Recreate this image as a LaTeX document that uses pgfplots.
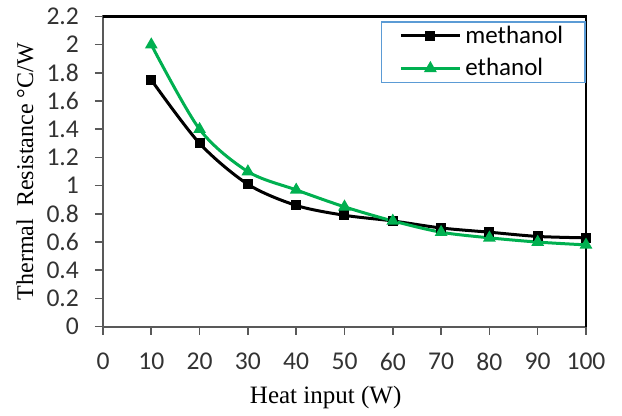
\documentclass[border=0pt]{standalone}
\usepackage{fontspec}
\setmainfont{Liberation Serif}
\newfontfamily\calibri{Carlito}
\usepackage{pgfplots}
\pgfplotsset{compat=1.18}
\definecolor{exgreen}{HTML}{00B050}
\definecolor{legblue}{HTML}{5B9BD5}
\definecolor{axgray}{HTML}{595959}
\begin{document}
\begin{tikzpicture}
\begin{axis}[
  name=ax,
  scale only axis,
  width=241.5pt, height=155.1pt,
  xmin=0, xmax=100, ymin=0, ymax=2.2,
  xtick={0,10,...,100},
  ytick={0,0.2,...,2.2},
  yticklabels={0,0.2,0.4,0.6,0.8,1,1.2,1.4,1.6,1.8,2,2.2},
  xticklabels={0,10,20,30,40,50,60,70,80,90,100},
  tick align=outside,
  xtick pos=bottom, ytick pos=left,
  major tick length=4pt,
  tick style={axgray, line width=0.8pt},
  axis line style={axgray, line width=1pt},
  /pgf/number format/assume math mode=true,
  ticklabel style={font=\calibri\fontsize{12.8}{13}\selectfont, text=black!80},
  yticklabel style={xshift=-4.5pt},
  xticklabel style={yshift=-5.5pt},
  xlabel={Heat input (W)},
  ylabel={Thermal\ \ Resistance °C/W},
  xlabel style={at={(axis description cs:0.461,0)}, anchor=base, yshift=-38.5pt, font=\fontsize{12.5}{13}\selectfont},
  ylabel style={at={(axis description cs:-0.1615,0.5)}, anchor=center, rotate=0, font=\fontsize{12}{13}\selectfont},
  legend style={at={(1,1)}, anchor=north east, yshift=-2.25pt, draw=legblue, line width=0.8pt,
    font=\calibri\fontsize{12.5}{13}\selectfont, inner xsep=9pt, inner ysep=0pt, row sep=2pt,
    cells={anchor=west}},
  legend image code/.code={
    \draw[#1, mark repeat=2, mark phase=2] plot coordinates {(0pt,0pt) (14.75pt,0pt) (29.5pt,0pt)};
  },
  clip=false,
]
\addplot[black, line width=1.5pt, smooth, tension=0.5, mark=square*, mark size=1.75pt, mark options={solid}]
  coordinates {(10,1.75) (20,1.30) (30,1.01) (40,0.86) (50,0.79) (60,0.75) (70,0.70) (80,0.67) (90,0.64) (100,0.63)};
\addlegendentry{methanol}
\addplot[exgreen, line width=1.5pt, smooth, tension=0.5, mark=triangle*, mark size=2.2pt, mark options={solid}]
  coordinates {(10,2.00) (20,1.40) (30,1.10) (40,0.97) (50,0.85) (60,0.75) (70,0.67) (80,0.63) (90,0.60) (100,0.58)};
\addlegendentry{ethanol}
\draw[black, line width=1.2pt] (rel axis cs:0,1) -- (rel axis cs:1,1) -- (rel axis cs:1,0);
\end{axis}
\path (ax.south west) ++(-51.5pt,-39.15pt) rectangle ([shift={(18pt,8.25pt)}]ax.north east);
\end{tikzpicture}
\end{document}
